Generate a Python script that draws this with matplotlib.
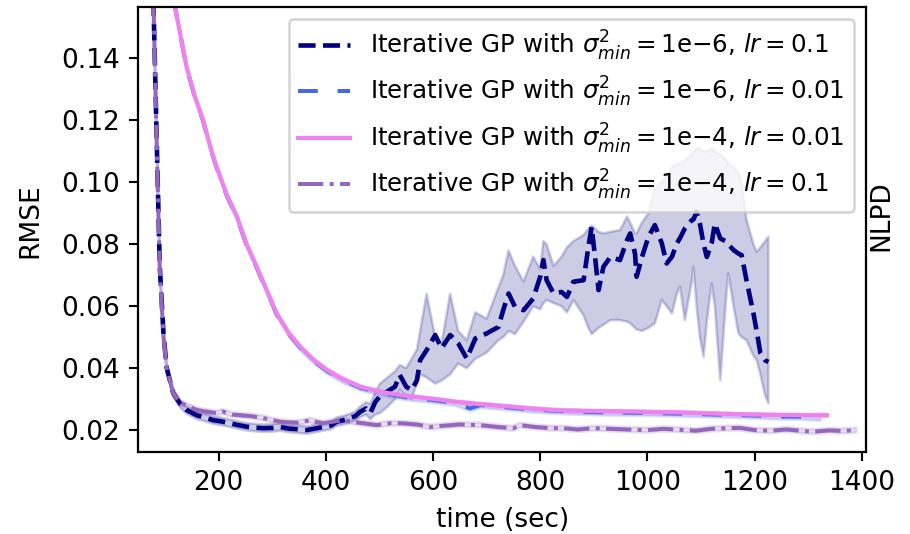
import numpy as np
import matplotlib.pyplot as plt

# ----------------------------
# Data (time in sec, RMSE)
# ----------------------------

# Iterative GP, sigma^2_min = 1e-6, lr = 0.1  (navy, dashed, wide band)
t_a = [72, 78, 84, 90, 97, 103, 115, 128, 140, 159, 175, 190, 205, 221, 237, 252,
       268, 283, 300, 315, 330, 346, 364, 380, 395, 410, 420, 433, 445, 455, 464,
       475, 483, 492, 501, 515, 529, 538, 550, 560, 570, 576, 588, 604, 616, 632,
       647, 663, 679, 700, 722, 731, 741, 753, 769, 787, 800, 806, 812, 825, 840,
       850, 862, 881, 890, 896, 903, 909, 918, 931, 949, 962, 968, 977, 980, 990,
       1002, 1014, 1027, 1036, 1046, 1055, 1061, 1070, 1083, 1086, 1092, 1098,
       1105, 1111, 1120, 1126, 1136, 1148, 1151, 1161, 1170, 1176, 1185, 1198,
       1204, 1211, 1220, 1226]
rmse_a = [0.30, 0.16, 0.116, 0.073, 0.051, 0.040, 0.032, 0.0285, 0.0265, 0.0248,
          0.024, 0.0232, 0.0228, 0.0222, 0.0216, 0.0211, 0.0208, 0.0206, 0.0207,
          0.021, 0.0205, 0.0203, 0.020, 0.0205, 0.021, 0.0215, 0.0227, 0.0232,
          0.0239, 0.0245, 0.0259, 0.027, 0.0255, 0.029, 0.031, 0.0325, 0.034,
          0.0378, 0.034, 0.0329, 0.0361, 0.0426, 0.0458, 0.0507, 0.0464, 0.0507,
          0.048, 0.0431, 0.0496, 0.0512, 0.0533, 0.0587, 0.0641, 0.0598, 0.0587,
          0.0625, 0.0695, 0.0749, 0.0684, 0.0641, 0.0646, 0.063, 0.0679, 0.0684,
          0.0792, 0.0856, 0.0749, 0.0652, 0.0727, 0.0759, 0.0749, 0.0813, 0.0835,
          0.077, 0.0695, 0.0759, 0.0824, 0.0862, 0.0803, 0.0738, 0.076, 0.0803,
          0.082, 0.0851, 0.0878, 0.088, 0.0905, 0.0867, 0.080, 0.0759, 0.0803,
          0.0867, 0.0819, 0.0808, 0.080, 0.0781, 0.077, 0.0765, 0.0684, 0.0577,
          0.052, 0.0448, 0.0425, 0.042]
lo_a = [0.29, 0.155, 0.113, 0.071, 0.0495, 0.0388, 0.0308, 0.0273, 0.0253, 0.0236,
        0.0228, 0.022, 0.0216, 0.021, 0.0204, 0.0199, 0.0196, 0.0194, 0.0195,
        0.0198, 0.0193, 0.0191, 0.0188, 0.0193, 0.0198, 0.0203, 0.0213, 0.0218,
        0.0225, 0.023, 0.0242, 0.025, 0.0235, 0.025, 0.0255, 0.0275, 0.030,
        0.033, 0.031, 0.030, 0.035, 0.038, 0.037, 0.035, 0.036, 0.038, 0.0415,
        0.040, 0.043, 0.045, 0.049, 0.050, 0.052, 0.051, 0.055, 0.060, 0.059,
        0.061, 0.062, 0.061, 0.060, 0.058, 0.062, 0.057, 0.053, 0.051, 0.052,
        0.053, 0.054, 0.0555, 0.0555, 0.055, 0.0545, 0.053, 0.0525, 0.052, 0.053,
        0.0545, 0.062, 0.060, 0.0577, 0.064, 0.0663, 0.0555, 0.068, 0.0727, 0.060,
        0.050, 0.0437, 0.055, 0.0674, 0.060, 0.0361, 0.065, 0.0706, 0.060, 0.0512,
        0.050, 0.049, 0.044, 0.0426, 0.038, 0.031, 0.0287]
hi_a = [0.31, 0.165, 0.119, 0.075, 0.0525, 0.0412, 0.0332, 0.0297, 0.0277, 0.026,
        0.0252, 0.0244, 0.024, 0.0234, 0.0228, 0.0223, 0.022, 0.0218, 0.0219,
        0.0222, 0.0217, 0.0215, 0.0212, 0.0217, 0.0222, 0.0227, 0.0241, 0.0246,
        0.0253, 0.026, 0.0276, 0.029, 0.0285, 0.032, 0.035, 0.037, 0.039, 0.041,
        0.040, 0.043, 0.046, 0.052, 0.064, 0.050, 0.048, 0.064, 0.052, 0.049,
        0.058, 0.056, 0.066, 0.070, 0.078, 0.073, 0.068, 0.076, 0.072, 0.081,
        0.080, 0.073, 0.076, 0.079, 0.081, 0.083, 0.085, 0.086, 0.085, 0.084,
        0.0835, 0.084, 0.0846, 0.0889, 0.087, 0.0835, 0.0835, 0.087, 0.090,
        0.098, 0.100, 0.102, 0.105, 0.106, 0.106, 0.107, 0.109, 0.110, 0.111,
        0.111, 0.110, 0.110, 0.111, 0.110, 0.109, 0.107, 0.106, 0.105, 0.103,
        0.100, 0.088, 0.080, 0.0776, 0.079, 0.081, 0.0824]

# Iterative GP, sigma^2_min = 1e-4, lr = 0.01  (violet, solid)
t_c = [112, 118, 140, 155, 171, 185, 196, 215, 234, 252, 271, 290, 308, 330, 352,
       376, 402, 430, 464, 501, 550, 595, 640, 688, 735, 781, 830, 875, 920, 970,
       1015, 1061, 1110, 1155, 1200, 1248, 1290, 1335]
rmse_c = [0.19, 0.157, 0.1373, 0.128, 0.120, 0.111, 0.105, 0.096, 0.0889, 0.080,
          0.0727, 0.065, 0.0577, 0.0515, 0.0469, 0.0428, 0.0394, 0.0366, 0.034,
          0.0324, 0.031, 0.0302, 0.0292, 0.0284, 0.0277, 0.027, 0.0264, 0.0262,
          0.0261, 0.026, 0.0258, 0.0257, 0.0254, 0.0252, 0.025, 0.0249, 0.0248,
          0.0248]

# Iterative GP, sigma^2_min = 1e-6, lr = 0.01  (royal blue, under the violet)
t_b = [112, 118, 140, 155, 171, 185, 196, 215, 234, 252, 271, 290, 308, 330, 352,
       376, 402, 430, 464, 501, 550, 595, 640, 669, 688, 735, 781, 830, 875, 920,
       970, 1015, 1061, 1110, 1155, 1200, 1248, 1290, 1322]
rmse_b = [0.19, 0.157, 0.1370, 0.1277, 0.1197, 0.1107, 0.1047, 0.0957, 0.0886,
          0.0797, 0.0724, 0.0647, 0.0574, 0.0512, 0.0466, 0.0425, 0.0391, 0.0363,
          0.0337, 0.0321, 0.0306, 0.0298, 0.0288, 0.027, 0.0281, 0.0274, 0.0267,
          0.0262, 0.0259, 0.0257, 0.0256, 0.0255, 0.0253, 0.0251, 0.0249, 0.0247,
          0.0244, 0.0243, 0.0240]

# Iterative GP, sigma^2_min = 1e-4, lr = 0.1  (purple, dash-dot)
t_d = [72, 78, 84, 90, 97, 103, 115, 128, 140, 159, 175, 196, 207, 225, 240, 260,
       283, 300, 315, 330, 346, 360, 371, 383, 395, 410, 433, 450, 470, 495, 520,
       540, 570, 595, 620, 650, 688, 720, 750, 762, 790, 820, 843, 870, 900, 930,
       960, 1000, 1030, 1060, 1090, 1120, 1150, 1173, 1200, 1230, 1260, 1290,
       1310, 1340, 1365, 1390]
rmse_d = [0.30, 0.16, 0.115, 0.072, 0.050, 0.040, 0.032, 0.0287, 0.028, 0.0265,
          0.026, 0.0255, 0.026, 0.025, 0.0248, 0.0245, 0.0239, 0.0232, 0.0227,
          0.0225, 0.0224, 0.0228, 0.0232, 0.0226, 0.0222, 0.0226, 0.0232, 0.0226,
          0.0222, 0.0216, 0.0222, 0.0222, 0.0218, 0.021, 0.0214, 0.0218, 0.0216,
          0.021, 0.0206, 0.0216, 0.021, 0.0206, 0.0206, 0.0202, 0.0206, 0.0204,
          0.0202, 0.020, 0.0204, 0.0201, 0.0198, 0.0204, 0.0206, 0.0207, 0.020,
          0.0198, 0.0202, 0.0197, 0.0195, 0.0199, 0.0197, 0.020]

labels = [r'Iterative GP with $\sigma^2_{min} = 1\mathrm{e}{-}6$, $lr = 0.1$',
          r'Iterative GP with $\sigma^2_{min} = 1\mathrm{e}{-}6$, $lr = 0.01$',
          r'Iterative GP with $\sigma^2_{min} = 1\mathrm{e}{-}4$, $lr = 0.01$',
          r'Iterative GP with $\sigma^2_{min} = 1\mathrm{e}{-}4$, $lr = 0.1$']

# ----------------------------
# Plot
# ----------------------------

fig = plt.figure(figsize=(910/190, 534/190), dpi=190)
ax = fig.add_axes([0.152, 0.154, 0.7996, 0.8334])

t_a = np.array(t_a)
ax.fill_between(t_a, lo_a, hi_a, color='navy', alpha=0.2)
ax.plot(t_a, rmse_a, color='navy', linestyle='--', linewidth=1.75, label=labels[0])

rb = np.array(rmse_b)
ax.fill_between(t_b, rb - 0.0008, rb + 0.0008, color='royalblue', alpha=0.2)
ax.plot(t_b, rb, color='royalblue', linestyle=(0, (5, 5)), linewidth=1.5, label=labels[1])

rc = np.array(rmse_c)
ax.fill_between(t_c, rc - 0.0006, rc + 0.0006, color='violet', alpha=0.2)
ax.plot(t_c, rc, color='violet', linestyle='-', linewidth=1.6, label=labels[2])

rd = np.array(rmse_d)
ax.fill_between(t_d, rd - 0.0008, rd + 0.0008, color='tab:purple', alpha=0.2)
ax.plot(t_d, rd, color='tab:purple', linestyle='-.', linewidth=1.5, label=labels[3])

ax.set_xlim([50, 1408])
ax.set_ylim([0.013, 0.1567])
ax.set_xticks([200, 400, 600, 800, 1000, 1200, 1400])
ax.set_xlabel('time (sec)')
ax.set_ylabel('RMSE')
ax.yaxis.set_label_coords(-0.13, 0.52)
ax.legend(loc='upper right', fontsize=9.3, handlelength=2.1)

ax2 = ax.twinx()
ax2.set_yticks([])
ax2.set_ylabel('NLPD', labelpad=1)
ax2.yaxis.set_label_coords(1.004, 0.53)

fig.savefig('out.png', dpi=190)
